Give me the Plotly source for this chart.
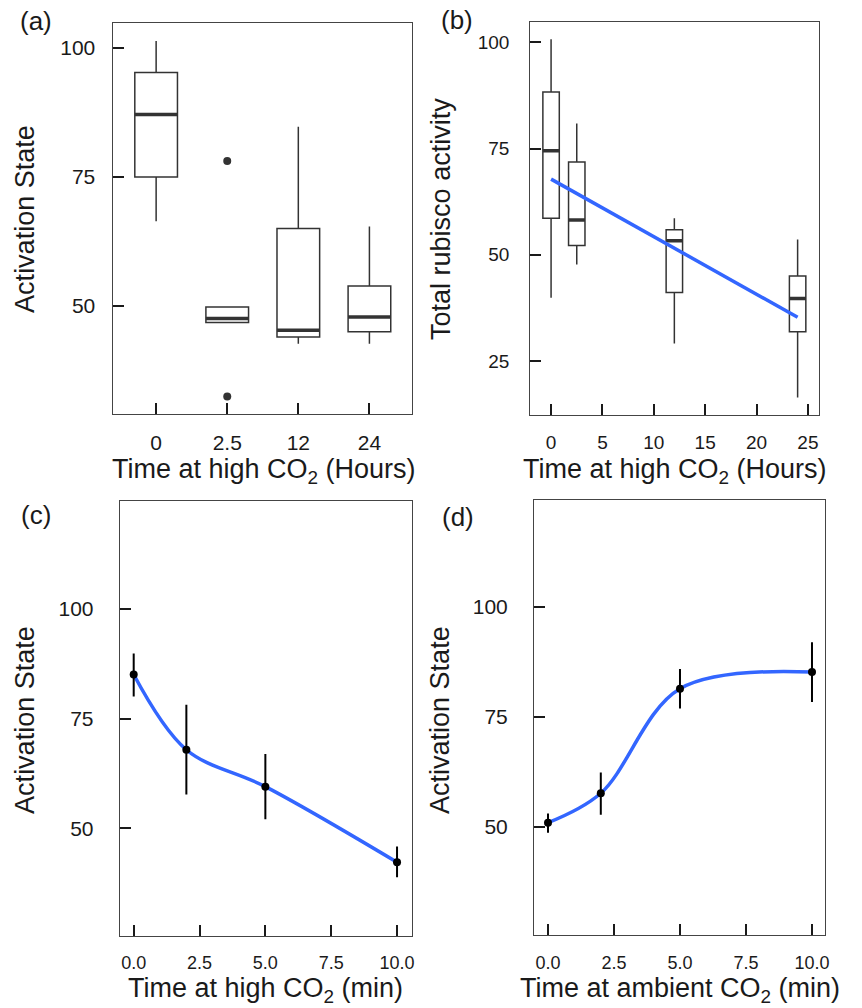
import plotly.graph_objects as go

# ---------------- data ----------------
# (a) Activation state boxplots (categorical time, hours)
a_labels = ["0", "2.5", "12", "24"]
a_pos = [0, 1, 2, 3]
a_low = [66.4, 46.8, 42.7, 42.7]
a_q1 = [75.0, 46.8, 44.0, 45.0]
a_med = [87.1, 47.6, 45.3, 47.9]
a_q3 = [95.2, 49.8, 65.0, 53.9]
a_high = [101.3, 49.8, 84.7, 65.4]
a_out_x = [1, 1]
a_out_y = [78.1, 32.5]

# (b) Total rubisco activity boxplots (numeric time, hours)
b_pos = [0, 2.5, 12, 24]
b_low = [39.9, 47.7, 29.1, 16.4]
b_q1 = [58.6, 52.2, 41.1, 31.9]
b_med = [74.5, 58.2, 53.3, 39.7]
b_q3 = [88.3, 71.8, 55.9, 45.0]
b_high = [100.7, 80.9, 58.6, 53.6]
b_fit_x = [0, 24]
b_fit_y = [67.8, 35.3]

# (c) Activation state vs time at high CO2 (min)
c_x = [0, 2, 5, 10]
c_y = [85.0, 67.9, 59.5, 42.3]
c_hi = [89.8, 78.1, 66.9, 45.9]
c_lo = [80.0, 57.7, 52.1, 38.9]

# (d) Activation state vs time at ambient CO2 (min)
d_x = [0, 2, 5, 10]
d_y = [50.9, 57.6, 81.4, 85.2]
d_hi = [53.0, 62.3, 85.9, 92.0]
d_lo = [48.6, 52.7, 76.9, 78.4]

# ---------------- styling ----------------
W, H = 862, 1008
BOXC = "#333333"
BLUE = "#3366FF"
FONT = "Liberation Sans, Arial, sans-serif"
TXT = "#1a1a1a"


def px_x(a, b):
    return [a / W, b / W]


def px_y(top, bottom):
    return [1 - bottom / H, 1 - top / H]


fig = go.Figure()


def median_segments(pos, med, w):
    xs, ys = [], []
    for p, m in zip(pos, med):
        xs += [p - w / 2, p + w / 2, None]
        ys += [m, m, None]
    return xs, ys


# (a)
wa = 0.6
fig.add_trace(go.Box(x=a_pos, q1=a_q1, median=a_med, q3=a_q3,
                     lowerfence=a_low, upperfence=a_high,
                     width=wa, whiskerwidth=0, fillcolor="white",
                     line=dict(color=BOXC, width=1.5), boxpoints=False,
                     xaxis="x", yaxis="y", showlegend=False))
mx, my = median_segments(a_pos, a_med, wa)
fig.add_trace(go.Scatter(x=mx, y=my, mode="lines", line=dict(color=BOXC, width=3.5),
                         xaxis="x", yaxis="y", showlegend=False))
fig.add_trace(go.Scatter(x=a_out_x, y=a_out_y, mode="markers",
                         marker=dict(color=BOXC, size=8),
                         xaxis="x", yaxis="y", showlegend=False))

# (b)
wb = 1.6
fig.add_trace(go.Box(x=b_pos, q1=b_q1, median=b_med, q3=b_q3,
                     lowerfence=b_low, upperfence=b_high,
                     width=wb, whiskerwidth=0, fillcolor="white",
                     line=dict(color=BOXC, width=1.5), boxpoints=False,
                     xaxis="x2", yaxis="y2", showlegend=False))
mx, my = median_segments(b_pos, b_med, wb)
fig.add_trace(go.Scatter(x=mx, y=my, mode="lines", line=dict(color=BOXC, width=3.5),
                         xaxis="x2", yaxis="y2", showlegend=False))
fig.add_trace(go.Scatter(x=b_fit_x, y=b_fit_y, mode="lines", line=dict(color=BLUE, width=3.5),
                         xaxis="x2", yaxis="y2", showlegend=False))

# (c)
fig.add_trace(go.Scatter(x=c_x, y=c_y, mode="lines", line=dict(color=BLUE, width=3.5, shape="spline", smoothing=1.0),
                         xaxis="x3", yaxis="y3", showlegend=False))
fig.add_trace(go.Scatter(x=c_x, y=c_y, mode="markers",
                         marker=dict(color="black", size=8),
                         error_y=dict(type="data", symmetric=False,
                                      array=[h - v for h, v in zip(c_hi, c_y)],
                                      arrayminus=[v - l for l, v in zip(c_lo, c_y)],
                                      color="black", thickness=2, width=0),
                         xaxis="x3", yaxis="y3", showlegend=False))

# (d)
fig.add_trace(go.Scatter(x=d_x, y=d_y, mode="lines", line=dict(color=BLUE, width=3.5, shape="spline", smoothing=1.0),
                         xaxis="x4", yaxis="y4", showlegend=False))
fig.add_trace(go.Scatter(x=d_x, y=d_y, mode="markers",
                         marker=dict(color="black", size=8),
                         error_y=dict(type="data", symmetric=False,
                                      array=[h - v for h, v in zip(d_hi, d_y)],
                                      arrayminus=[v - l for l, v in zip(d_lo, d_y)],
                                      color="black", thickness=2, width=0),
                         xaxis="x4", yaxis="y4", showlegend=False))

common = dict(showline=True, mirror=True, linecolor="#444444", linewidth=1,
              ticks="inside", ticklen=11, tickwidth=1.5, tickcolor="#1a1a1a",
              showgrid=False, zeroline=False, fixedrange=True)

fig.update_layout(
    width=W, height=H, margin=dict(l=0, r=0, t=0, b=0),
    paper_bgcolor="white", plot_bgcolor="white",
    font=dict(family=FONT, color=TXT),
    showlegend=False,
    xaxis=dict(domain=px_x(114, 414), range=[-0.6, 3.6], tickvals=a_pos, ticktext=a_labels,
               tickfont=dict(size=21), ticklabelstandoff=10, anchor="y", **common),
    yaxis=dict(domain=px_y(23, 414), range=[29.1, 104.8], tickvals=[50, 75, 100],
               tickfont=dict(size=21), ticklabelstandoff=13, anchor="x", **common),
    xaxis2=dict(domain=px_x(532.7, 822.7), range=[-2.03, 26.07], tickvals=[0, 5, 10, 15, 20, 25],
                tickfont=dict(size=19), ticklabelstandoff=10, anchor="y2", **common),
    yaxis2=dict(domain=px_y(22.3, 415), range=[12.3, 104.7], tickvals=[25, 50, 75, 100],
                tickfont=dict(size=19), ticklabelstandoff=16, anchor="x2", **common),
    xaxis3=dict(domain=px_x(120.3, 413.7), range=[-0.53, 10.56], tickvals=[0, 2.5, 5, 7.5, 10],
                ticktext=["0.0", "2.5", "5.0", "7.5", "10.0"],
                tickfont=dict(size=18), ticklabelstandoff=11, anchor="y3", **common),
    yaxis3=dict(domain=px_y(501.3, 935.7), range=[25.6, 124.4], tickvals=[50, 75, 100],
                tickfont=dict(size=21), ticklabelstandoff=21, anchor="x3", **common),
    xaxis4=dict(domain=px_x(536.5, 829.3), range=[-0.53, 10.51], tickvals=[0, 2.5, 5, 7.5, 10],
                ticktext=["0.0", "2.5", "5.0", "7.5", "10.0"],
                tickfont=dict(size=18), ticklabelstandoff=11, anchor="y4", **common),
    yaxis4=dict(domain=px_y(500, 935), range=[25.3, 124.4], tickvals=[50, 75, 100],
                tickfont=dict(size=21), ticklabelstandoff=21, anchor="x4", **common),
)


def ann(text, x, y, size, angle=0):
    fig.add_annotation(text=text, x=x / W, y=1 - y / H, xref="paper", yref="paper",
                       showarrow=False, font=dict(size=size, family=FONT, color=TXT),
                       textangle=angle, xanchor="center", yanchor="middle")


# panel letters
ann("(a)", 36, 21, 26)
ann("(b)", 459, 20, 26)
ann("(c)", 36, 515, 26)
ann("(d)", 460, 517, 26)

# axis titles
ann("Activation State", 25, 219, 27, -90)
ann("Time at high CO<sub>2</sub> (Hours)", 265, 471, 27)
ann("Total rubisco activity", 443, 219, 27, -90)
ann("Time at high CO<sub>2</sub> (Hours)", 678, 471, 27)
ann("Activation State", 25, 720, 27, -90)
ann("Time at high CO<sub>2</sub> (min)", 267, 990, 27)
ann("Activation State", 442, 720, 27, -90)
ann("Time at ambient CO<sub>2</sub> (min)", 683, 990, 27)

fig.write_html("out.html", config={"displayModeBar": False},
               post_script="document.body.style.margin='0';document.body.style.padding='0';document.body.style.overflow='hidden';")
